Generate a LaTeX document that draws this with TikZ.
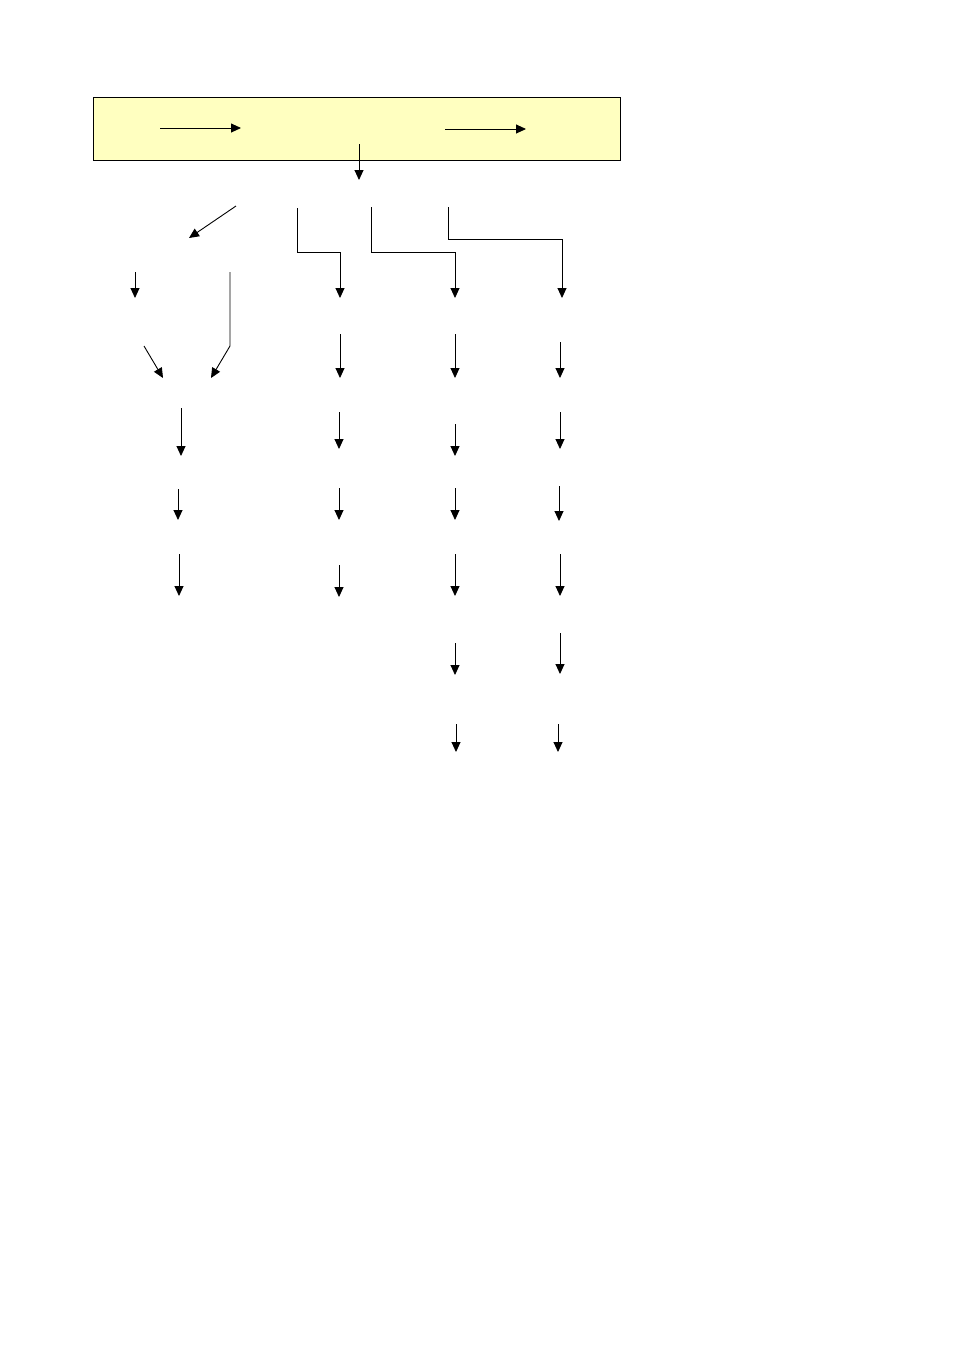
\documentclass[tikz,border=0pt]{standalone}
\usepackage{xcolor}
\usepackage{tikz}
\usetikzlibrary{arrows.meta, positioning}
\definecolor{paleyellow}{RGB}{255,255,192}
\tikzset{
  flow/.style={line width=0.9pt, -{Triangle[width=9pt, length=10pt]}},
  bend/.style={line width=0.9pt},
  headerbox/.style={draw=black, line width=0.9pt, fill=paleyellow, inner sep=0pt, outer sep=0pt, minimum width=527pt, minimum height=63pt}
}

\begin{document}
\begin{tikzpicture}[x=1pt, y=-1pt]
  \useasboundingbox (0, 0) rectangle (954, 1350);

  \node [headerbox] (header) at (356.5, 128.5) {};
  \draw [flow] (160, 128) to (241, 128);
  \draw [flow] (445, 129) to (526, 129);
  \draw [flow] (359, 144) to (359, 180);

  % branches
  \draw [flow] (236, 206) to (189, 238);
  \draw [flow] (297, 208) |- (340, 252) -- (340, 298);
  \draw [flow] (371, 207) |- (455, 252) -- (455, 298);
  \draw [flow] (448, 207) |- (562, 239) -- (562, 298);

  % left group
  \draw [flow] (135, 272) to (135, 298);
  \draw [flow] (230, 272) -- (230, 346) -- (211, 378);
  \draw [flow] (144, 346) to (163, 378);
  \draw [flow] (181, 408) to (181, 456);
  \draw [flow] (178, 489) to (178, 520);
  \draw [flow] (179, 554) to (179, 596);

  % second column
  \draw [flow] (340, 334) to (340, 378);
  \draw [flow] (339, 412) to (339, 449);
  \draw [flow] (339, 488) to (339, 520);
  \draw [flow] (339, 565) to (339, 597);

  % third column
  \draw [flow] (455, 334) to (455, 378);
  \draw [flow] (455, 424) to (455, 456);
  \draw [flow] (455, 488) to (455, 520);
  \draw [flow] (455, 554) to (455, 596);
  \draw [flow] (455, 643) to (455, 675);
  \draw [flow] (456, 724) to (456, 752);

  % fourth column
  \draw [flow] (560, 342) to (560, 378);
  \draw [flow] (560, 412) to (560, 449);
  \draw [flow] (559, 486) to (559, 521);
  \draw [flow] (560, 554) to (560, 596);
  \draw [flow] (560, 633) to (560, 674);
  \draw [flow] (558, 724) to (558, 752);
\end{tikzpicture}
\end{document}
